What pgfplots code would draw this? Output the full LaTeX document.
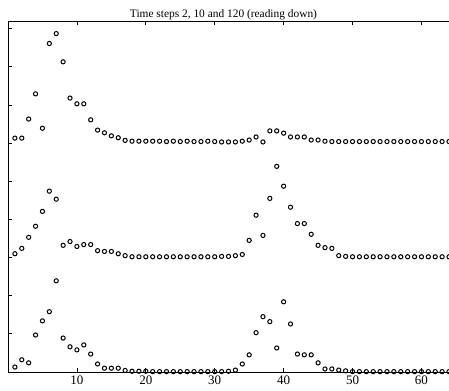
\documentclass[border=0pt]{standalone}
\usepackage{fontspec}
\setmainfont{Liberation Serif}
\usepackage{pgfplots}
\usepackage{pgfplotstable}
\pgfplotsset{compat=1.18}

% grid index, then the solution at time steps 120 (b), 10 (m) and 2 (t);
% the three profiles are stacked with offsets 0, 3 and 6
\pgfplotstableread{
x  b     m     t
1  0.13  3.10  6.13
2  0.32  3.24  6.13
3  0.24  3.53  6.63
4  0.97  3.82  7.29
5  1.34  4.21  6.39
6  1.58  4.74  8.61
7  2.39  4.53  8.87
8  0.89  3.32  8.13
9  0.66  3.42  7.18
10 0.58  3.29  7.03
11 0.71  3.34  7.03
12 0.47  3.34  6.61
13 0.21  3.18  6.34
14 0.10  3.16  6.27
15 0.10  3.16  6.19
16 0.10  3.10  6.14
17 0.04  3.05  6.07
18 0.02  3.02  6.05
19 0.02  3.02  6.05
20 0.02  3.02  6.05
21 0.01  3.02  6.05
22 0.01  3.02  6.05
23 0.01  3.02  6.04
24 0.01  3.02  6.05
25 0.01  3.02  6.04
26 0.01  3.02  6.05
27 0.01  3.02  6.04
28 0.01  3.02  6.04
29 0.01  3.02  6.05
30 0.01  3.02  6.04
31 0.01  3.03  6.03
32 0.02  3.03  6.03
33 0.05  3.05  6.03
34 0.21  3.08  6.05
35 0.45  3.45  6.08
36 1.03  4.11  6.16
37 1.45  3.58  6.03
38 1.32  4.55  6.32
39 0.63  5.39  6.32
40 1.84  4.87  6.26
41 1.26  4.32  6.16
42 0.47  3.89  6.16
43 0.45  3.89  6.16
44 0.45  3.61  6.08
45 0.24  3.32  6.08
46 0.08  3.26  6.05
47 0.08  3.24  6.04
48 0.05  3.05  6.04
49 0.03  3.03  6.04
50 0.01  3.02  6.04
51 0.01  3.02  6.04
52 0.01  3.02  6.04
53 0.01  3.02  6.04
54 0.01  3.02  6.04
55 0.01  3.02  6.04
56 0.01  3.02  6.04
57 0.01  3.02  6.04
58 0.01  3.02  6.04
59 0.01  3.02  6.04
60 0.01  3.02  6.04
61 0.01  3.02  6.04
62 0.01  3.02  6.04
63 0.01  3.02  6.04
64 0.01  3.02  6.04
}\profiles

\pgfplotsset{profile/.style={only marks, mark=o, mark size=2.1bp,
  mark options={line width=1bp, black}}}

\begin{document}
\begin{tikzpicture}
\useasboundingbox (-8bp,-19bp) rectangle (441bp,372bp);
\begin{axis}[
  at={(0,0)}, anchor=south west,
  scale only axis, width=441bp, height=351bp,
  xmin=0, xmax=64, ymin=0, ymax=9.2,
  axis x line*=box, axis y line*=left,
  xtick={10,20,...,60}, ytick={0,1,...,9}, yticklabels={},
  xtick pos=both,
  tick align=inside, major tick length=4bp,
  tick style={line width=0.7bp, black},
  axis line style={line width=0.7bp},
  /pgf/number format/assume math mode=true,
  xticklabel style={font=\fontsize{13bp}{14bp}\selectfont, anchor=base, yshift=-12.5bp},
  clip=false,
]
\addplot[profile] table[x=x, y=t] {\profiles};
\addplot[profile] table[x=x, y=m] {\profiles};
\addplot[profile] table[x=x, y=b] {\profiles};
\end{axis}
\node[anchor=base, font=\fontsize{11.4bp}{12bp}\selectfont] at (215.5bp,354bp) {Time steps 2, 10 and 120 (reading down)};
\end{tikzpicture}
\end{document}
